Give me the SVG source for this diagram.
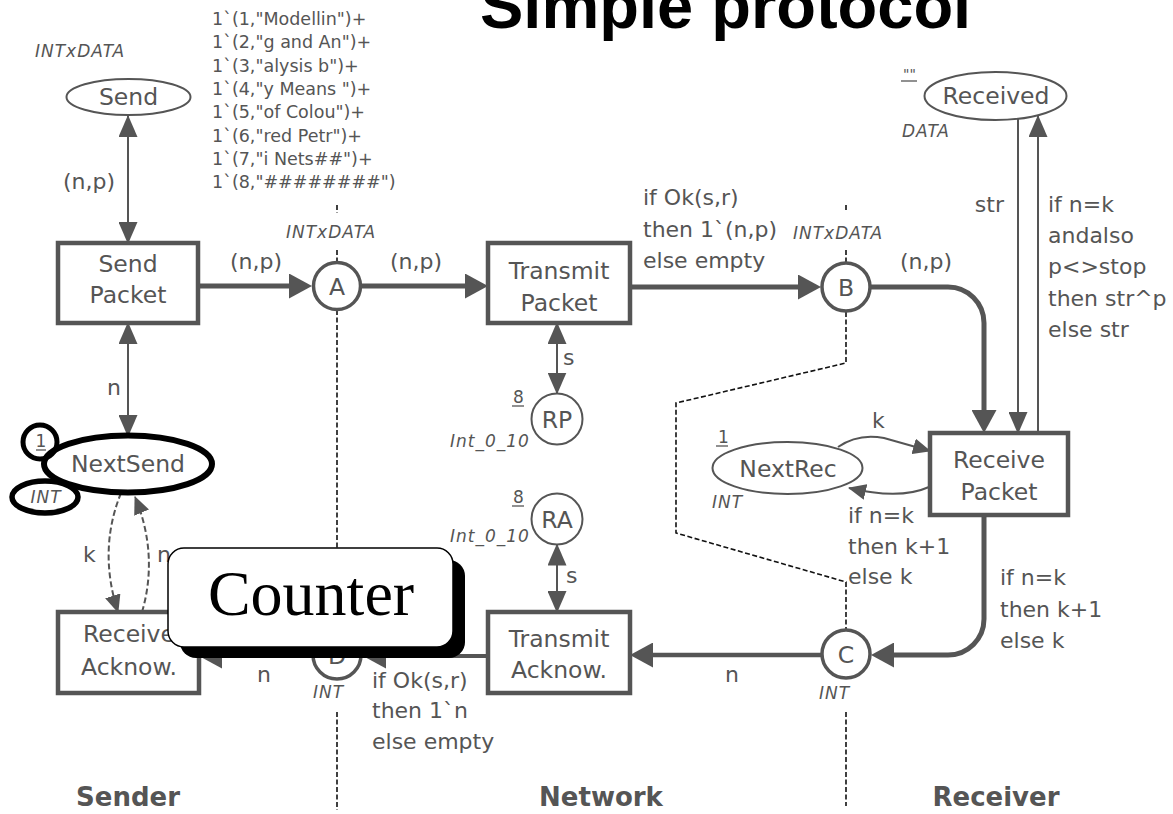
<svg xmlns="http://www.w3.org/2000/svg" width="1173" height="814" viewBox="0 0 1173 814">
<defs>
<style>
 .t{font-family:"DejaVu Sans","Liberation Sans",sans-serif;fill:#555}
 .nd{font-size:23.5px;text-anchor:middle}
 .an{font-size:22px}
 .ty{font-size:17px;font-style:italic;letter-spacing:1px}
 .mk{font-size:17px}
 .tk{font-size:17.5px}
 .sec{font-size:26px;font-weight:bold;text-anchor:middle}
 .tr{fill:#fff;stroke:#555;stroke-width:4.5}
 .pl{fill:#fff;stroke:#555;stroke-width:3.5}
 .plt{fill:#fff;stroke:#555;stroke-width:2}
 .arc{fill:none;stroke:#555;stroke-width:2}
 .arcB{fill:none;stroke:#555;stroke-width:5}
 .dsh{stroke-dasharray:6 3}
 .sep{fill:none;stroke:#111;stroke-width:1.6;stroke-dasharray:5 2.5}
 .ul{stroke:#555;stroke-width:1.3}
 .hl{fill:none;stroke:#000;stroke-width:6}
</style>
<marker id="ah" markerUnits="userSpaceOnUse" viewBox="0 0 22 19" markerWidth="22" markerHeight="19" refX="21" refY="9.5" orient="auto-start-reverse"><path d="M0,0 L22,9.5 L0,19 Z" fill="#555"/></marker>
<marker id="ahB" markerUnits="userSpaceOnUse" viewBox="0 0 23 25" markerWidth="23" markerHeight="25" refX="15" refY="12.5" orient="auto"><path d="M0,0 L23,12.5 L0,25 Z" fill="#555"/></marker>
<marker id="ahS" markerUnits="userSpaceOnUse" viewBox="0 0 18 16" markerWidth="18" markerHeight="16" refX="17" refY="8" orient="auto"><path d="M0,0 L18,8 L0,16 Z" fill="#555"/></marker>
</defs>
<rect width="1173" height="814" fill="#fff"/>

<!-- title -->
<text x="480" y="28" font-family="'Liberation Sans',Arial,sans-serif" font-weight="bold" font-size="65" fill="#000">Simple protocol</text>

<!-- sender / network / receiver boundaries -->
<g id="boundaries">
 <path class="sep" d="M337,205 V213 M337,250 V262 M337,310 V630 M337,712 V810"/>
 <path class="sep" d="M846,205 V212 M846,250 V262 M846,312 V363 L676,403 V533 L846,582 V630 M846,712 V806"/>
</g>

<!-- arcs -->
<g id="connectors">
 <path class="arc" d="M128,116 V243" marker-start="url(#ah)" marker-end="url(#ah)"/>
 <path class="arc" d="M128,323 V436" marker-start="url(#ah)" marker-end="url(#ah)"/>
 <path class="arcB" d="M198,286 H304" marker-end="url(#ahB)"/>
 <path class="arcB" d="M361,286 H480" marker-end="url(#ahB)"/>
 <path class="arcB" d="M630,287 H813" marker-end="url(#ahB)"/>
 <path class="arcB" d="M870,287 H948 A36,36 0 0 1 984,323 V425" marker-end="url(#ahB)"/>
 <path class="arcB" d="M984,515 V619 A36,36 0 0 1 948,655 H879" marker-end="url(#ahB)"/>
 <path class="arcB" style="stroke-width:4.5" d="M821,655 H638" marker-end="url(#ahB)"/>
 <path class="arcB" style="stroke-width:4" d="M488,656 H371" marker-end="url(#ahB)"/>
 <path class="arcB" style="stroke-width:4" d="M312,656 H207" marker-end="url(#ahB)"/>
 <path class="arc" d="M557,323 V393.5" marker-start="url(#ah)" marker-end="url(#ah)"/>
 <path class="arc" d="M557,544.5 V612" marker-start="url(#ah)" marker-end="url(#ah)"/>
 <path class="arc" d="M1018,119 V433" marker-end="url(#ah)"/>
 <path class="arc" d="M1038,433 V116" marker-end="url(#ah)"/>
 <path class="arc" d="M838,447 Q858,433 884,438 L930,451" marker-end="url(#ahS)"/>
 <path class="arc" d="M929,487 Q900,500 849,488" marker-end="url(#ahS)"/>
 <path class="arc dsh" d="M121,493 C104,535 106,575 118,612" marker-end="url(#ahS)"/>
 <path class="arc dsh" d="M142,612 C153,575 151,535 135,497" marker-end="url(#ahS)"/>
</g>

<!-- arc inscriptions -->
<g id="inscriptions" class="t an">
 <text x="63" y="189">(n,p)</text>
 <text x="107" y="395">n</text>
 <text x="230" y="269">(n,p)</text>
 <text x="390" y="269">(n,p)</text>
 <text x="643" y="205">if Ok(s,r)</text>
 <text x="643" y="237">then 1`(n,p)</text>
 <text x="643" y="268">else empty</text>
 <text x="900" y="269">(n,p)</text>
 <text x="1004" y="212" text-anchor="end">str</text>
 <text x="1048" y="212">if n=k</text>
 <text x="1048" y="243">andalso</text>
 <text x="1048" y="274">p&lt;&gt;stop</text>
 <text x="1048" y="306">then str^p</text>
 <text x="1048" y="337">else str</text>
 <text x="563" y="365">s</text>
 <text x="566" y="583">s</text>
 <text x="872" y="428">k</text>
 <text x="848" y="523">if n=k</text>
 <text x="848" y="554">then k+1</text>
 <text x="848" y="584">else k</text>
 <text x="1000" y="585">if n=k</text>
 <text x="1000" y="617">then k+1</text>
 <text x="1000" y="648">else k</text>
 <text x="725" y="682">n</text>
 <text x="372" y="688">if Ok(s,r)</text>
 <text x="372" y="718">then 1`n</text>
 <text x="372" y="749">else empty</text>
 <text x="257" y="682">n</text>
 <text x="83" y="562">k</text>
 <text x="157" y="562">n</text>
</g>

<!-- places -->
<g id="place-send">
 <ellipse class="plt" cx="128.5" cy="97" rx="62" ry="18"/>
 <text class="t nd" x="128.5" y="105">Send</text>
 <text class="t ty" x="35" y="57">INTxDATA</text>
 <g class="t tk">
  <text x="212" y="25">1`(1,"Modellin")+</text>
  <text x="212" y="48.3">1`(2,"g and An")+</text>
  <text x="212" y="71.6">1`(3,"alysis b")+</text>
  <text x="212" y="94.9">1`(4,"y Means ")+</text>
  <text x="212" y="118.2">1`(5,"of Colou")+</text>
  <text x="212" y="141.5">1`(6,"red Petr")+</text>
  <text x="212" y="164.8">1`(7,"i Nets##")+</text>
  <text x="212" y="188.1">1`(8,"########")</text>
 </g>
</g>
<g id="place-nextsend">
 <ellipse class="plt" cx="128" cy="464" rx="83" ry="28"/>
 <text class="t nd" x="128" y="472">NextSend</text>
 <text class="t mk" x="41" y="447" text-anchor="middle">1</text>
 <line class="ul" x1="36" y1="450" x2="46" y2="450"/>
 <text class="t ty" x="46" y="503" text-anchor="middle">INT</text>
</g>
<g id="place-A">
 <circle class="pl" cx="337" cy="286" r="23.5"/>
 <text class="t nd" x="337" y="295">A</text>
 <text class="t ty" x="286" y="238">INTxDATA</text>
</g>
<g id="place-B">
 <circle class="pl" cx="846" cy="287" r="24"/>
 <text class="t nd" x="846" y="296">B</text>
 <text class="t ty" x="793" y="239">INTxDATA</text>
</g>
<g id="place-C">
 <circle class="pl" cx="846" cy="654" r="24"/>
 <text class="t nd" x="846" y="663">C</text>
 <text class="t ty" x="819" y="699">INT</text>
</g>
<g id="place-D">
 <circle class="pl" cx="337" cy="655" r="24"/>
 <text class="t nd" x="337" y="664">D</text>
 <text class="t ty" x="313" y="698">INT</text>
</g>
<g id="place-RP">
 <circle class="plt" cx="557" cy="419" r="25.5"/>
 <text class="t nd" x="557" y="428">RP</text>
 <text class="t mk" x="513" y="403">8</text>
 <line class="ul" x1="512" y1="406" x2="524" y2="406"/>
 <text class="t ty" x="450" y="447">Int_0_10</text>
</g>
<g id="place-RA">
 <circle class="plt" cx="557" cy="519" r="25.5"/>
 <text class="t nd" x="557" y="528">RA</text>
 <text class="t mk" x="513" y="503">8</text>
 <line class="ul" x1="512" y1="506" x2="524" y2="506"/>
 <text class="t ty" x="450" y="542">Int_0_10</text>
</g>
<g id="place-nextrec">
 <ellipse class="plt" cx="787.5" cy="468" rx="75" ry="26"/>
 <text class="t nd" x="788" y="477">NextRec</text>
 <text class="t mk" x="718" y="443">1</text>
 <line class="ul" x1="716" y1="446" x2="728" y2="446"/>
 <text class="t ty" x="712" y="508">INT</text>
</g>
<g id="place-received">
 <ellipse class="plt" cx="995.5" cy="96" rx="71" ry="24"/>
 <text class="t nd" x="996" y="104">Received</text>
 <text class="t mk" x="903" y="79" style="font-size:14px">""</text>
 <line class="ul" x1="901" y1="81" x2="917" y2="81"/>
 <text class="t ty" x="902" y="137">DATA</text>
</g>

<!-- transitions -->
<g id="trans-sendpacket">
 <rect class="tr" x="58" y="243" width="140" height="80"/>
 <text class="t nd" x="128" y="272">Send</text>
 <text class="t nd" x="128" y="303">Packet</text>
</g>
<g id="trans-transmitpacket">
 <rect class="tr" x="488" y="243" width="142" height="80"/>
 <text class="t nd" x="559" y="279">Transmit</text>
 <text class="t nd" x="559" y="311">Packet</text>
</g>
<g id="trans-receivepacket">
 <rect class="tr" x="930" y="433" width="138" height="82"/>
 <text class="t nd" x="999" y="468">Receive</text>
 <text class="t nd" x="999" y="500">Packet</text>
</g>
<g id="trans-transmitacknow">
 <rect class="tr" x="488" y="612" width="142" height="81"/>
 <text class="t nd" x="559" y="647">Transmit</text>
 <text class="t nd" x="559" y="678">Acknow.</text>
</g>
<g id="trans-receiveacknow">
 <rect class="tr" x="58" y="612" width="141" height="81"/>
 <text class="t nd" x="129" y="642">Receive</text>
 <text class="t nd" x="129" y="675">Acknow.</text>
</g>

<!-- section names -->
<g id="sections" class="t sec">
 <text x="128" y="806">Sender</text>
 <text x="601" y="806">Network</text>
 <text x="996" y="806">Receiver</text>
</g>

<!-- highlight rings on the counter place -->
<g id="counter-highlight">
 <ellipse class="hl" cx="128" cy="464" rx="84" ry="28.5"/>
 <circle class="hl" cx="40" cy="442" r="17" style="stroke-width:5"/>
 <ellipse class="hl" cx="45" cy="497" rx="33" ry="16" style="stroke-width:5.5"/>
</g>

<!-- callout -->
<g id="counter-callout">
 <rect x="180" y="560" width="285" height="98" rx="16" fill="#000"/>
 <rect x="168" y="548" width="285" height="99" rx="16" fill="#fff" stroke="#000" stroke-width="1.5"/>
 <text x="311" y="615" font-family="'Liberation Serif','Times New Roman',serif" font-size="64" text-anchor="middle" fill="#000">Counter</text>
</g>
</svg>
